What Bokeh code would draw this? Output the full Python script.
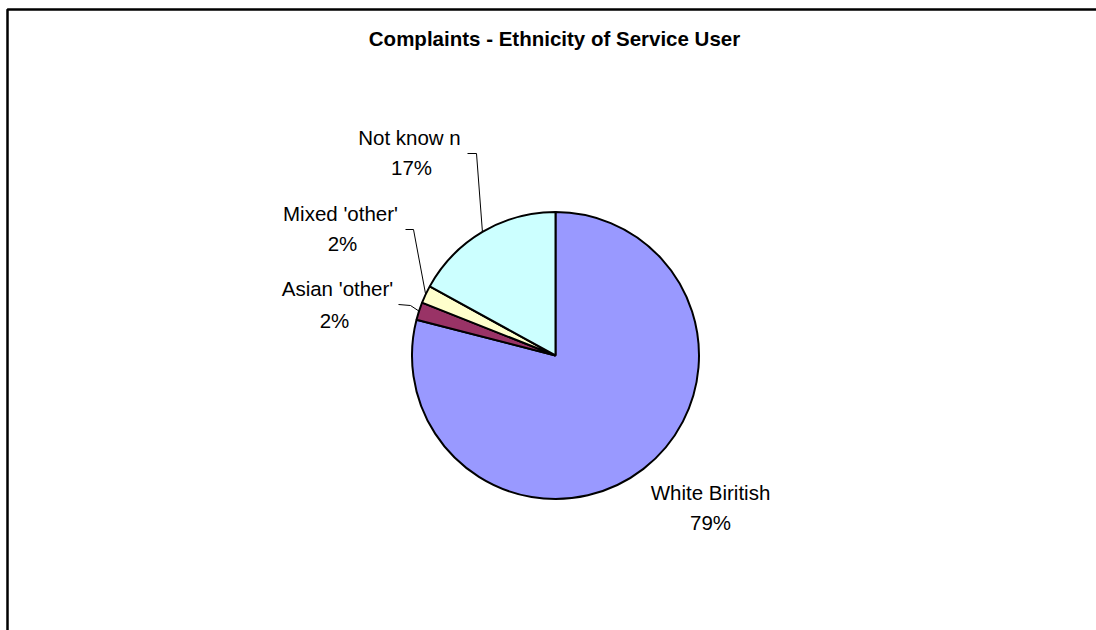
import math
from bokeh.plotting import figure
from bokeh.models import Range1d, ColumnDataSource
from bokeh.core.properties import value
from bokeh.embed import file_html
from bokeh.resources import INLINE

# ---- data ----
categories = ["White Biritish", "Asian 'other'", "Mixed 'other'", "Not know n"]
values = [79, 2, 2, 17]
colors = ["#9999FF", "#993366", "#FFFFCC", "#CCFFFF"]
title_text = "Complaints - Ethnicity of Service User"

# ---- layout (pixel coordinates, y measured from top) ----
W, H = 1096, 630
cx, cy, r = 555, 355, 143.5
# label centres (name line, percent line)
label_name_pos = [(710, 492), (337, 288), (340, 213), (409, 137)]
label_pct_pos = [(710, 522), (334, 320), (342, 243), (411, 167)]
# leader line start and elbow (None for no leader)
leader_pts = [None, [(398, 304), (410, 305)], [(405, 229), (413, 229)], [(467, 153), (476, 153)]]


def Y(y):
    return H - y


p = figure(width=W, height=H, x_range=Range1d(0, W), y_range=Range1d(0, H),
           output_backend="svg", toolbar_location=None,
           x_axis_location=None, y_axis_location=None, min_border=0)
p.grid.visible = False
p.outline_line_color = None
p.background_fill_color = "white"
p.border_fill_color = "white"

# outer chart frame (extends beyond the window on right and bottom)
p.line([7, 7, W + 10], [-10, Y(9), Y(9)], line_color="black", line_width=2.5)

# wedges: start at 12 o'clock, clockwise
total = float(sum(values))
starts, ends, mids = [], [], []
a = math.pi / 2
for v in values:
    sweep = 2 * math.pi * v / total
    starts.append(a)
    ends.append(a - sweep)
    mids.append(a - sweep / 2)
    a -= sweep

src = ColumnDataSource(dict(start=starts, end=ends, color=colors, cat=categories))
p.wedge(x=cx, y=Y(cy), radius=r, start_angle="start", end_angle="end",
        direction="clock", fill_color="color", line_color="black",
        line_width=2, source=src)

# leader lines
for i, pts in enumerate(leader_pts):
    if pts is None:
        continue
    ex = cx + r * math.cos(mids[i])
    ey = Y(cy) + r * math.sin(mids[i])
    xs = [pt[0] for pt in pts] + [ex]
    ys = [Y(pt[1]) for pt in pts] + [ey]
    p.line(xs, ys, line_color="black", line_width=1)

# labels
pct = ["%d%%" % round(100 * v / total) for v in values]
p.text(x=[q[0] for q in label_name_pos], y=[Y(q[1]) for q in label_name_pos],
       text=categories, text_align="center", text_baseline="middle",
       text_font=value("Liberation Sans"), text_font_size="20.5px", text_color="black")
p.text(x=[q[0] for q in label_pct_pos], y=[Y(q[1]) for q in label_pct_pos],
       text=pct, text_align="center", text_baseline="middle",
       text_font=value("Liberation Sans"), text_font_size="20.5px", text_color="black")

# title
p.text(x=[554], y=[Y(38)], text=[title_text], text_align="center",
       text_baseline="middle", text_font=value("Liberation Sans"),
       text_font_style="bold", text_font_size="20.5px", text_color="black")

open("out.html", "w").write(file_html(p, INLINE))
